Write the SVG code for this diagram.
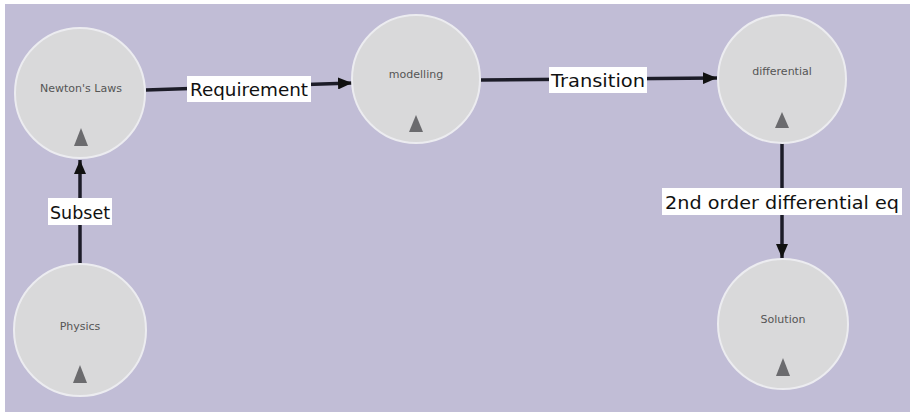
<svg xmlns="http://www.w3.org/2000/svg" width="910" height="412" viewBox="0 0 910 412">
<style>
.node circle{fill:#d9d9da;stroke:#ececf0;stroke-width:2}
.node text{font-family:"DejaVu Sans",sans-serif;font-size:11px;fill:#555;text-anchor:middle}
.node polygon{fill:#6b6b6e}
.edge line{stroke:#1c1c28;stroke-width:3.5}
.lbl rect{fill:#ffffff}
.lbl text{font-family:"DejaVu Sans",sans-serif;font-size:18.5px;fill:#111;text-anchor:middle}
</style>
<defs>
<marker id="ah" markerWidth="14" markerHeight="12" refX="14" refY="6" orient="auto" markerUnits="userSpaceOnUse">
<path d="M0,0 L14,6 L0,12 Z" fill="#111"/>
</marker>
</defs>
<rect x="0" y="0" width="910" height="412" fill="#ffffff"/>
<rect x="5" y="4" width="905" height="408" fill="#c1bdd6"/>
<g id="connectors">
<g class="edge"><line x1="146" y1="90" x2="352" y2="83" marker-end="url(#ah)"/></g>
<g class="edge"><line x1="481" y1="80" x2="717" y2="78" marker-end="url(#ah)"/></g>
<g class="edge"><line x1="80" y1="264" x2="80" y2="160" marker-end="url(#ah)"/></g>
<g class="edge"><line x1="782" y1="143" x2="782" y2="258" marker-end="url(#ah)"/></g>
<g class="lbl"><rect x="187" y="76" width="124" height="26"/><text x="249" y="96" textLength="118" lengthAdjust="spacingAndGlyphs">Requirement</text></g>
<g class="lbl"><rect x="549" y="67" width="98" height="26"/><text x="598" y="87" textLength="94" lengthAdjust="spacingAndGlyphs">Transition</text></g>
<g class="lbl"><rect x="48" y="198" width="64" height="27"/><text x="80" y="219" textLength="60" lengthAdjust="spacingAndGlyphs">Subset</text></g>
<g class="lbl"><rect x="662" y="188" width="240" height="27"/><text x="782" y="209" textLength="234" lengthAdjust="spacingAndGlyphs">2nd order differential eq</text></g>
</g>
<g id="newtons-laws" class="node"><circle cx="80" cy="93" r="65"/><text x="81" y="92">Newton's Laws</text><polygon points="81,128 74,146 88,146"/></g>
<g id="modelling" class="node"><circle cx="416" cy="79" r="64"/><text x="416" y="78">modelling</text><polygon points="416,115 409,132 423,132"/></g>
<g id="differential" class="node"><circle cx="782" cy="79" r="64"/><text x="782" y="75">differential</text><polygon points="782,112 775,128 789,128"/></g>
<g id="physics" class="node"><circle cx="80" cy="330" r="66"/><text x="80" y="330">Physics</text><polygon points="80,365 73,383 87,383"/></g>
<g id="solution" class="node"><circle cx="783" cy="324" r="65"/><text x="783" y="323">Solution</text><polygon points="783,358 776,376 790,376"/></g>
</svg>
